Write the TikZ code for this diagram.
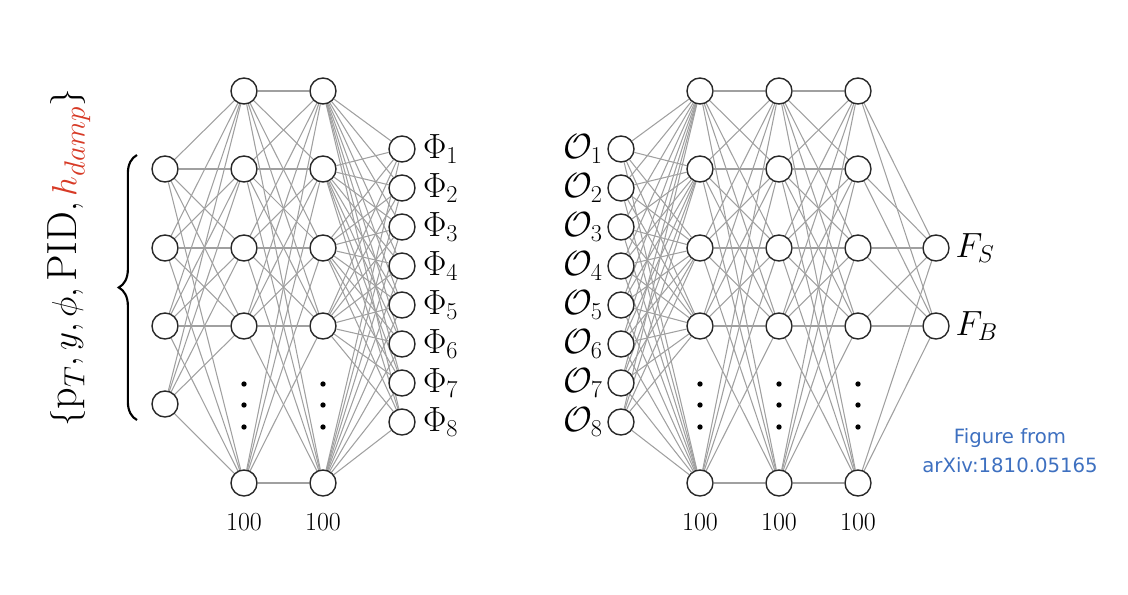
\documentclass[tikz,border=0pt]{standalone}
\usepackage{amsmath,amssymb}
\usepackage{fontspec}
\newfontfamily\notefont{DejaVu Sans}
\usepackage{tikz}
\usetikzlibrary{
  positioning, calc, backgrounds,
  decorations.pathreplacing
}
\usepackage{xcolor}
\definecolor{linkgray}{RGB}{160,160,160}
\definecolor{nodeedge}{RGB}{40,40,40}
\definecolor{dampred}{RGB}{215,58,38}
\definecolor{noteblue}{RGB}{62,112,192}
\tikzset{
  neuron/.style={circle, draw=nodeedge, fill=white, line width=1pt,
    minimum size=18.5pt, inner sep=0pt},
  link/.style={draw=linkgray, line width=0.75pt},
  vdot/.style={circle, fill=black, inner sep=0pt, minimum size=3.8pt},
  lab/.style={font=\fontsize{23}{27}\selectfont, inner sep=1pt},
  labF/.style={lab, font=\fontsize{24}{28}\selectfont},
  cnt/.style={font=\fontsize{18.5}{22}\selectfont, inner sep=1pt},
}

\begin{document}
\begin{tikzpicture}[x=0.025cm, y=-0.025cm]
  \useasboundingbox (0,0) rectangle (1128,594);

  % -- left network: inputs, two hidden layers, Phi outputs --
  \foreach \i/\y in {1/169,2/248,3/326,4/404}
    \node[neuron] (in-\i) at (165,\y) {};
  \foreach \c/\x in {a/244,b/323}{
    \foreach \i/\y in {1/91,2/169,3/248,4/326,5/483}
      \node[neuron] (\c-\i) at (\x,\y) {};
    \foreach \k/\y in {1/384,2/405,3/427}
      \node[vdot] (\c-dot-\k) at (\x,\y) {};
    \node[cnt] (\c-num) at (\x,522) {100};
  }
  \foreach \i in {1,...,8}{
    \node[neuron] (phi-\i) at (402,{149+39*(\i-1)}) {};
    \node[lab, right=4pt of phi-\i] (phil-\i) {$\Phi_{\i}$};
  }

  % -- right network: O inputs, three hidden layers, F outputs --
  \foreach \i in {1,...,8}{
    \node[neuron] (o-\i) at (621,{149+39*(\i-1)}) {};
    \node[lab, left=2pt of o-\i] (ol-\i) {$\mathcal{O}_{\i}$};
  }
  \foreach \c/\x in {r/700,s/779,t/858}{
    \foreach \i/\y in {1/91,2/169,3/248,4/326,5/483}
      \node[neuron] (\c-\i) at (\x,\y) {};
    \foreach \k/\y in {1/384,2/405,3/427}
      \node[vdot] (\c-dot-\k) at (\x,\y) {};
    \node[cnt] (\c-num) at (\x,522) {100};
  }
  \node[neuron] (fs) at (936,248) {};
  \node[neuron] (fb) at (936,326) {};
  \node[labF, right=3pt of fs] (fsl) {$F_S$};
  \node[labF, right=3pt of fb] (fbl) {$F_B$};

  % -- links --
  \begin{scope}[on background layer]
    \foreach \i in {1,...,4}
      \foreach \j in {1,...,5} \draw[link] (in-\i) -- (a-\j);
    \foreach \i in {1,...,5}
      \foreach \j in {1,...,5} \draw[link] (a-\i) -- (b-\j);
    \foreach \i in {1,...,5}
      \foreach \j in {1,...,8} \draw[link] (b-\i) -- (phi-\j);
    \foreach \i in {1,...,8}
      \foreach \j in {1,...,5} \draw[link] (o-\i) -- (r-\j);
    \foreach \i in {1,...,5}
      \foreach \j in {1,...,5}{
        \draw[link] (r-\i) -- (s-\j);
        \draw[link] (s-\i) -- (t-\j);
      }
    \foreach \i in {1,...,5}{
      \draw[link] (t-\i) -- (fs);
      \draw[link] (t-\i) -- (fb);
    }
  \end{scope}

  % -- input features and brace --
  \node[rotate=90, font=\fontsize{30}{36}\selectfont] (feat) at (69,258)
       {$\{\mathrm{p}_T, y, \phi, \mathrm{PID}, \textcolor{dampred}{h_{damp}}\}$};
  \coordinate (br-bot) at (137,420);
  \coordinate (br-top) at (137,155);
  \draw[decorate, decoration={brace, amplitude=13pt}, line width=1.5pt]
       (br-bot) -- (br-top);

  % -- source note --
  \node[font={\notefont\fontsize{14}{20.6}\selectfont}, text=noteblue,
        align=center] (note) at (1010,451) {Figure from\\arXiv:1810.05165};
\end{tikzpicture}
\end{document}
